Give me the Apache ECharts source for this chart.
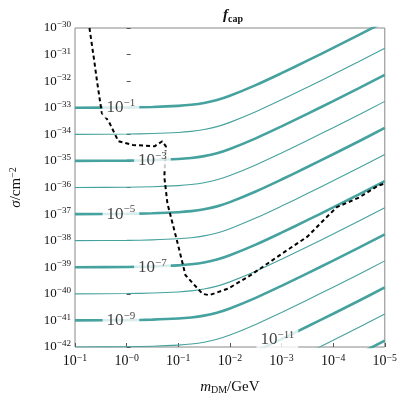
<!DOCTYPE html>
<html><head><meta charset="utf-8">
<script src="https://cdn.jsdelivr.net/npm/echarts@6/dist/echarts.min.js"></script>
<style>html,body{margin:0;padding:0;background:#fff}#c{width:400px;height:400px}</style>
</head><body><div id="c"></div>
<script>
// log10(m/GeV) sample points and common contour shape offset (decades)
const logM = [-1, 0, 0.5, 1, 1.25, 1.5, 1.75, 2, 2.5, 3, 3.5, 4, 4.5, 5];
const shape = [0, 0.01, 0.03, 0.07, 0.11, 0.18, 0.29, 0.45, 0.85, 1.3, 1.77, 2.25, 2.74, 3.24];
// contour flat levels log10(sigma) for f_cap = 10^-1 ... 10^-13
const levels = [-33, -34, -35, -36, -37, -38, -39, -40, -41, -42, -43, -44, -45];
const fcapExp = [-1, -2, -3, -4, -5, -6, -7, -8, -9, -10, -11, -12, -13];
// contour labels [log m, log sigma, exponent]
const labelPts = [[-0.11, -33, -1], [0.5, -35, -3], [-0.11, -37, -5], [0.5, -39, -7], [-0.11, -41, -9], [2.92, -41.72, -11]];
// dashed limit curve [log m, log sigma]
const limit = [[-0.72, -30], [-0.63, -31.2], [-0.57, -32.05], [-0.48, -33.2], [-0.35, -33.5], [-0.16, -34.26], [0.12, -34.4], [0.54, -34.45], [0.69, -34.26], [0.76, -34.45], [0.73, -35.6], [0.79, -36.6], [0.97, -37.96], [1.14, -39.3], [1.47, -40.0], [1.6, -40.05], [1.97, -39.8], [2.4, -39.3], [3.0, -38.5], [3.5, -37.85], [3.83, -37.2], [4.07, -36.74], [4.5, -36.38], [4.87, -35.93], [5, -35.85]];

const serif = 'Liberation Serif';
const pow = v => '{b|10}{e|−' + Math.abs(Math.round(v)) + '}';
const teal = '#45a29e';
const series = levels.map((L, i) => ({
  type: 'line', showSymbol: false, smooth: 0.3, silent: true,
  lineStyle: {color: teal, width: (fcapExp[i] % 2 === 0) ? 1.1 : 2.6},
  data: logM.map((x, j) => [x, L + shape[j]])
}));
series.push({type: 'line', showSymbol: false, silent: true, z: 5,
  lineStyle: {color: '#000', width: 2, type: [4, 3]}, data: limit});
series.push({type: 'scatter', symbolSize: 0, z: 6, silent: true,
  data: labelPts.map(p => ({value: [p[0], p[1]], label: {formatter: pow(p[2])}})),
  label: {show: true, position: 'inside', backgroundColor: '#fff', padding: [0, 4],
    rich: {b: {fontFamily: serif, fontSize: 17, color: '#111'},
           e: {fontFamily: serif, fontSize: 11, color: '#111', padding: [0, 0, 9, 0]}}}});
const tickRich = fs => ({b: {fontFamily: serif, fontSize: fs, color: '#111'},
  e: {fontFamily: serif, fontSize: fs * 0.7, color: '#111', padding: [0, 0, fs * 0.5, 0]}});
const chart = echarts.init(document.getElementById('c'));
chart.setOption({
  animation: false,
  title: {text: '{i|f}{s|cap}', left: 228, top: 2, textAlign: 'center',
    textStyle: {rich: {i: {fontFamily: serif, fontStyle: 'italic', fontSize: 15, color: '#111'},
      s: {fontFamily: serif, fontSize: 10, color: '#111', padding: [7, 0, 0, 0]}}}},
  grid: {left: 67, right: 10, top: 28, bottom: 50, show: true, borderColor: '#888', borderWidth: 1},
  xAxis: {type: 'value', min: -1, max: 5, interval: 1,
    name: '{i|m}{s|DM}{n|/GeV}', nameLocation: 'middle', nameGap: 32,
    nameTextStyle: {rich: {i: {fontFamily: serif, fontStyle: 'italic', fontSize: 15, color: '#111'},
      s: {fontFamily: serif, fontSize: 10, color: '#111', padding: [6, 0, 0, 0]},
      n: {fontFamily: serif, fontSize: 15, color: '#111'}}},
    axisLine: {show: false}, splitLine: {show: false},
    axisTick: {inside: true, length: 4, lineStyle: {color: '#555'}},
    axisLabel: {formatter: pow, rich: tickRich(14), margin: 6}},
  yAxis: {type: 'value', min: -42, max: -30, interval: 1,
    name: '{i|σ}{n|/cm}{e|−2}', nameLocation: 'middle', nameGap: 50,
    nameTextStyle: {rich: {i: {fontFamily: serif, fontStyle: 'italic', fontSize: 15, color: '#111'},
      n: {fontFamily: serif, fontSize: 15, color: '#111'},
      e: {fontFamily: serif, fontSize: 10, color: '#111', padding: [0, 0, 7, 0]}}},
    axisLine: {show: false}, splitLine: {show: false},
    axisTick: {inside: true, length: 4, lineStyle: {color: '#555'}},
    axisLabel: {formatter: pow, rich: tickRich(13), margin: 4}},
  series
});
</script></body></html>
